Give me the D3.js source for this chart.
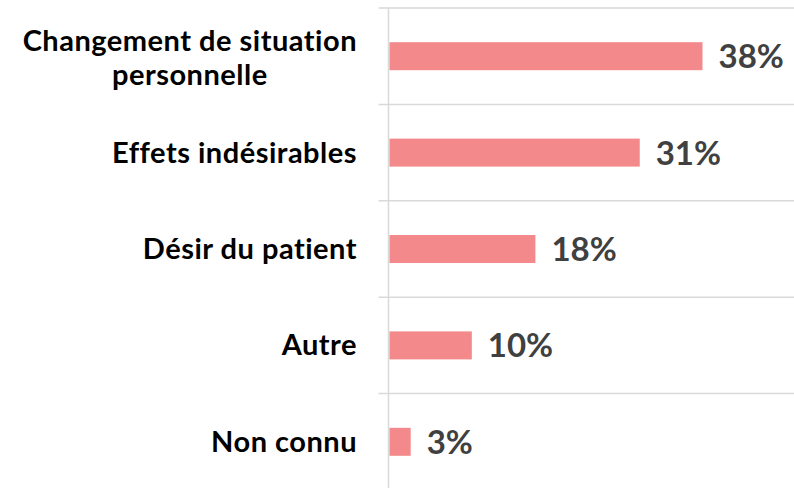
<!DOCTYPE html>
<html>
<head>
<meta charset="utf-8">
<script src="https://d3js.org/d3.v7.min.js"></script>
<style>
  body { margin: 0; background: #fff; }
</style>
</head>
<body>
<svg id="chart" width="794" height="488"></svg>
<script>
    // chart data
    var categories = ["Changement de situation personnelle", "Effets indésirables", "Désir du patient", "Autre", "Non connu"];
    var values = [38.4, 30.7, 17.9, 10.1, 2.6];
    var labels = ["38%", "31%", "18%", "10%", "3%"];

    var svg = d3.select("#chart");
    var axisX = 388.5,
        plotTop = 8,
        plotBottom = 490;

    var x = d3.scaleLinear().domain([0, 38.4]).range([axisX + 1, 702.5]);
    var y = d3.scaleBand().domain(categories).range([plotTop, plotBottom]).padding(0);

    var barH = 28;

    // horizontal separators between categories
    var bounds = categories.map(function(c) { return y(c); }).concat([plotBottom]);
    svg.append("g").selectAll("line")
        .data(bounds)
        .enter().append("line")
        .attr("x1", axisX - 10)
        .attr("x2", 794)
        .attr("y1", function(d) { return d; })
        .attr("y2", function(d) { return d; })
        .attr("stroke", "#d9d9d9")
        .attr("stroke-width", 1.5);

    // vertical axis line
    svg.append("line")
        .attr("x1", axisX).attr("x2", axisX)
        .attr("y1", plotTop).attr("y2", 488)
        .attr("stroke", "#d9d9d9")
        .attr("stroke-width", 1.5);

    var rows = categories.map(function(c, i) { return { cat: c, v: values[i], lab: labels[i] }; });

    svg.append("g").selectAll("rect")
        .data(rows)
        .enter().append("rect")
        .attr("x", x(0))
        .attr("y", function(d) { return y(d.cat) + y.bandwidth() / 2 - barH / 2; })
        .attr("width", function(d) { return x(d.v) - x(0); })
        .attr("height", barH)
        .attr("fill", "#f3898b");

    // value labels
    svg.append("g").selectAll("text")
        .data(rows)
        .enter().append("text")
        .attr("x", function(d) { return x(d.v) + 16; })
        .attr("y", function(d) { return y(d.cat) + y.bandwidth() / 2 + 12; })
        .style("font-family", "Lato, 'Open Sans', sans-serif")
        .style("font-weight", "bold")
        .style("font-size", "33px")
        .attr("fill", "#404040")
        .text(function(d) { return d.lab; });

    // category labels (first one wraps on two lines, second line centred)
    var catFont = "Lato, 'Open Sans', sans-serif";
    var catSize = "29px";
    var labelRight = 357;
    var g = svg.append("g")
        .style("font-family", catFont)
        .style("font-weight", "bold")
        .style("font-size", catSize)
        .style("letter-spacing", "0.5px")
        .attr("fill", "#000");
    rows.forEach(function(d, i) {
        var cy = y(d.cat) + y.bandwidth() / 2;
        if (i === 0) {
            var t1 = g.append("text")
                .attr("x", labelRight)
                .attr("y", cy - 5)
                .attr("text-anchor", "end")
                .text("Changement de situation");
            var w = t1.node().getComputedTextLength();
            g.append("text")
                .attr("x", labelRight - w / 2)
                .attr("y", cy + 29)
                .attr("text-anchor", "middle")
                .text("personnelle");
        } else {
            g.append("text")
                .attr("x", labelRight)
                .attr("y", cy + 10)
                .attr("text-anchor", "end")
                .text(d.cat);
        }
    });
</script>
</body>
</html>
